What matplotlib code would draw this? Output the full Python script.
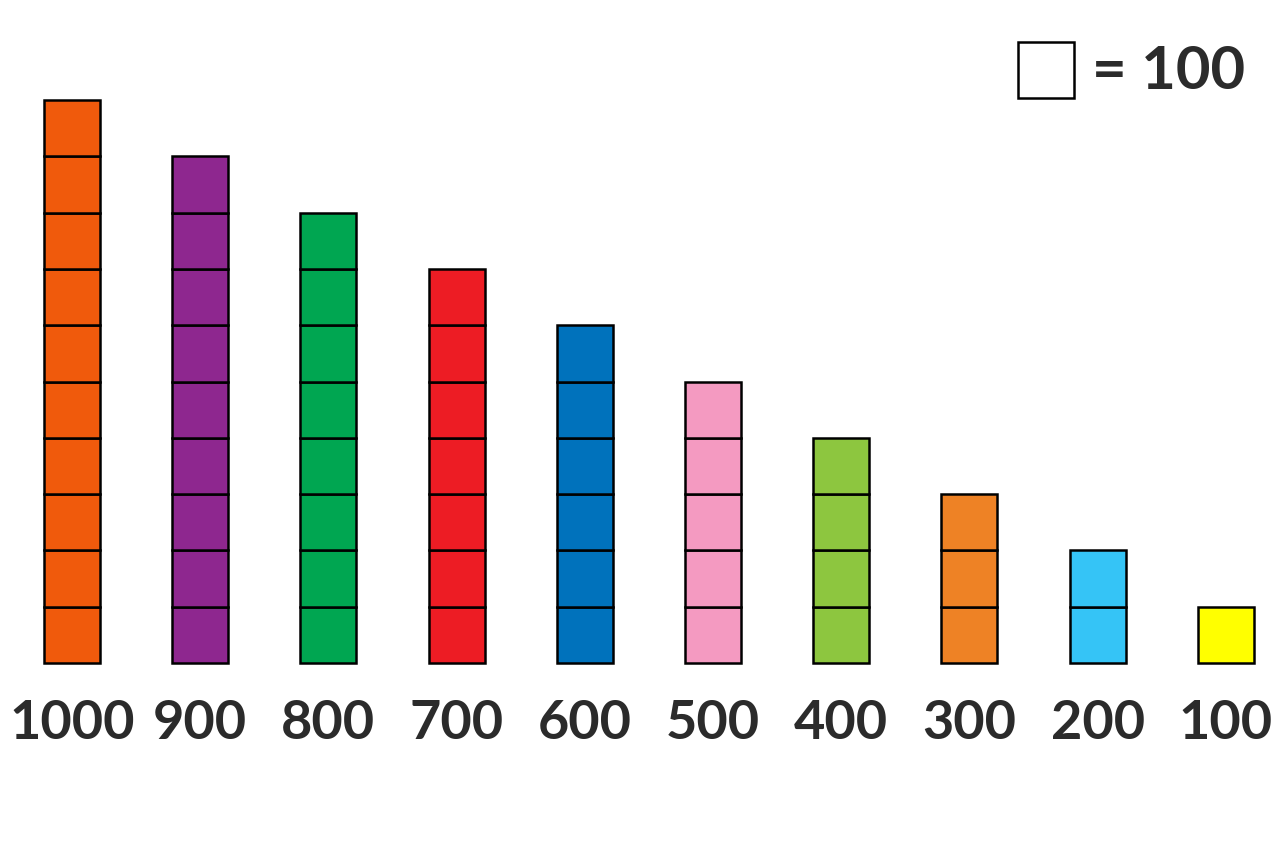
import matplotlib.pyplot as plt

# values, one square = 100
labels = ['1000', '900', '800', '700', '600', '500', '400', '300', '200', '100']
values = [1000, 900, 800, 700, 600, 500, 400, 300, 200, 100]
colors = ['#f05a0c', '#8e278f', '#00a651', '#ed1c24', '#0072bc',
          '#f49ac1', '#8dc63f', '#ee8225', '#35c4f6', '#ffff00']
unit = 100

fig = plt.figure(figsize=(12.8, 8.53), dpi=100)
ax = fig.add_axes([0, 0, 1, 1])

for i, (v, c) in enumerate(zip(values, colors)):
    n = v // unit
    for k in range(n):
        ax.bar(i, 1, bottom=k, width=0.437, color=c,
               edgecolor='black', linewidth=1.8)
    ax.text(i, -1.06, labels[i], ha='center', va='center', fontsize=39,
            fontfamily='Lato', fontweight='bold', color='#2b2b2b')

# key square
ax.bar(7.598, 1, bottom=10.035, width=0.437, color='white',
       edgecolor='black', linewidth=1.8)
ax.text(7.96, 10.52, '= 100', ha='left', va='center', fontsize=43,
        fontfamily='Lato', fontweight='bold', color='#2b2b2b')

ax.set_xlim(-0.5616, 9.4228)
ax.set_ylim(-3.357, 11.794)
ax.axis('off')

fig.savefig('out.png', dpi=100, facecolor='white')
